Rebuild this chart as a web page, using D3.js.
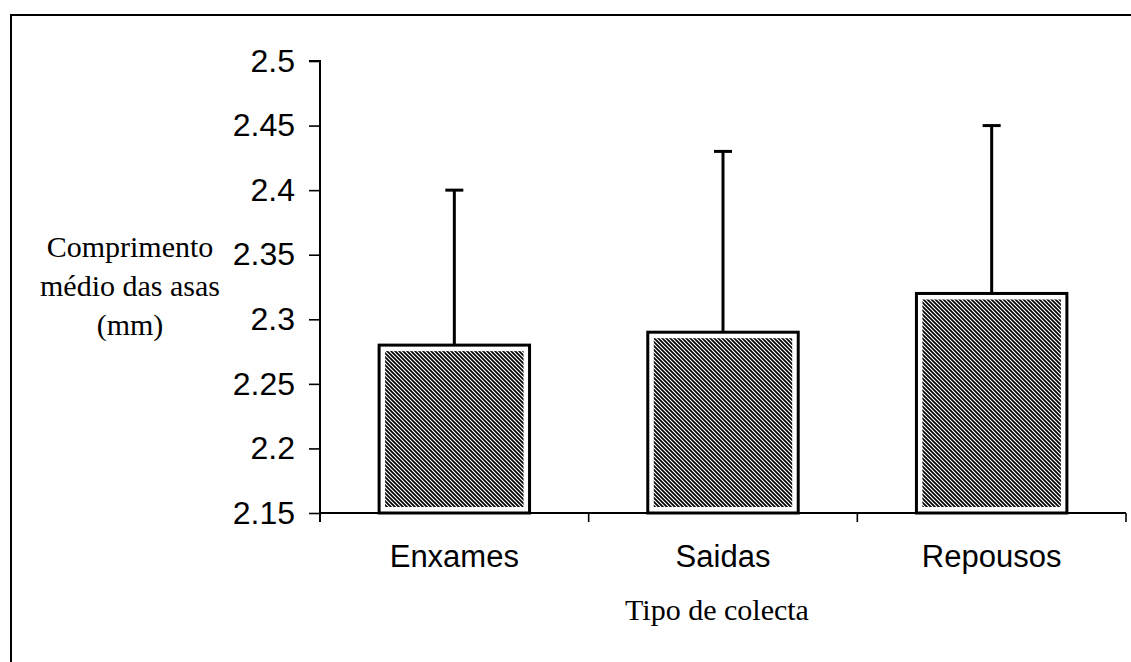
<!DOCTYPE html>
<html>
<head>
<meta charset="utf-8">
<script src="https://cdn.jsdelivr.net/npm/d3@7"></script>
<style>
  html, body { margin: 0; padding: 0; background: #fff; overflow: hidden; }
  .tick text { font-family: "Liberation Sans", Arial, sans-serif; }
  .serif { font-family: "Liberation Serif", "Times New Roman", serif; }
</style>
</head>
<body>
<script>
const categories = ['Enxames', 'Saidas', 'Repousos']
const means = [2.28, 2.29, 2.32]
const errors = [0.12, 0.14, 0.13]
const yTicks = [2.15, 2.2, 2.25, 2.3, 2.35, 2.4, 2.45, 2.5]
const yTitle = ['Comprimento', 'médio das asas', '(mm)']
const xTitle = 'Tipo de colecta'

const fullWidth = 1131
const fullHeight = 662
const margin = { top: 61, right: 5, bottom: 150, left: 320 }

const svg = d3.select('body')
  .append('svg')
  .attr('width', fullWidth)
  .attr('height', fullHeight)

// hatch pattern for bars ("\" lines)
const defs = svg.append('defs')
const pat = defs.append('pattern')
  .attr('id', 'hatch')
  .attr('patternUnits', 'userSpaceOnUse')
  .attr('width', 4)
  .attr('height', 4)
pat.append('path')
  .attr('d', 'M0,0L4,4M-1,3L1,5M3,-1L5,1')
  .attr('stroke', '#000')
  .attr('stroke-width', 1.7)

// outer frame (runs off the page on right/bottom)
svg.append('rect')
  .attr('x', 11)
  .attr('y', 15)
  .attr('width', 1200)
  .attr('height', 700)
  .attr('fill', 'none')
  .attr('stroke', '#000')
  .attr('stroke-width', 2)

const x = d3.scaleBand()
  .domain(categories)
  .range([margin.left, fullWidth - margin.right])
  .paddingInner(0.44)
  .paddingOuter(0.22)

const y = d3.scaleLinear()
  .domain([2.15, 2.5])
  .range([fullHeight - margin.bottom + 1, margin.top])

// ---------------Y axis---------------
const yAxis = d3.axisLeft(y)
  .tickValues(yTicks)
  .tickFormat(d => String(+d.toFixed(2)))
  .tickSize(11)
  .tickPadding(14)

const gy = svg.append('g')
  .attr('transform', `translate(${margin.left},0)`)
  .call(yAxis)
gy.select('.domain').attr('stroke-width', 2)
  .attr('d', `M-11,${y(2.5)}H0V${y(2.15) + 9}`)
gy.selectAll('.tick line').attr('stroke-width', 1.6)
gy.selectAll('.tick text')
  .attr('font-size', 32)
  .attr('fill', '#000')

// ---------------X axis---------------
const step = x.step()
const bounds = categories.map(c => x(c) - step * x.paddingInner() / 2)
bounds.push(fullWidth - margin.right)

const gx = svg.append('g')
gx.append('line')
  .attr('x1', margin.left)
  .attr('x2', fullWidth - margin.right)
  .attr('y1', y(2.15))
  .attr('y2', y(2.15))
  .attr('stroke', '#000')
  .attr('stroke-width', 2)
gx.selectAll('.xtick')
  .data(bounds)
  .enter().append('line')
  .attr('x1', d => d)
  .attr('x2', d => d)
  .attr('y1', y(2.15))
  .attr('y2', y(2.15) + 9)
  .attr('stroke', '#000')
  .attr('stroke-width', 1.6)

gx.selectAll('.xlabel')
  .data(categories)
  .enter().append('text')
  .attr('x', d => x(d) + x.bandwidth() / 2)
  .attr('y', 567)
  .attr('text-anchor', 'middle')
  .attr('font-family', '"Liberation Sans", Arial, sans-serif')
  .attr('font-size', 31)
  .text(d => d)

// ---------------Bars---------------
const bars = svg.selectAll('.bar')
  .data(categories)
  .enter().append('g')
  .attr('class', 'bar')

// error bars drawn first (lower half hidden behind bar)
bars.append('line')
  .attr('x1', d => x(d) + x.bandwidth() / 2)
  .attr('x2', d => x(d) + x.bandwidth() / 2)
  .attr('y1', (d, i) => y(means[i]))
  .attr('y2', (d, i) => y(means[i] + errors[i]))
  .attr('stroke', '#000')
  .attr('stroke-width', 3)
bars.append('line')
  .attr('x1', d => x(d) + x.bandwidth() / 2 - 9)
  .attr('x2', d => x(d) + x.bandwidth() / 2 + 9)
  .attr('y1', (d, i) => y(means[i] + errors[i]))
  .attr('y2', (d, i) => y(means[i] + errors[i]))
  .attr('stroke', '#000')
  .attr('stroke-width', 3)

bars.append('rect')
  .attr('x', d => x(d))
  .attr('y', (d, i) => y(means[i]))
  .attr('width', x.bandwidth())
  .attr('height', (d, i) => y(2.15) - y(means[i]))
  .attr('fill', '#fff')
  .attr('stroke', '#000')
  .attr('stroke-width', 3)

bars.append('rect')
  .attr('x', d => x(d) + 6)
  .attr('y', (d, i) => y(means[i]) + 6)
  .attr('width', x.bandwidth() - 12)
  .attr('height', (d, i) => y(2.15) - y(means[i]) - 12)
  .attr('fill', 'url(#hatch)')

// ---------------Titles---------------
svg.append('text')
  .attr('class', 'serif')
  .attr('text-anchor', 'middle')
  .attr('font-size', 30)
  .selectAll('tspan')
  .data(yTitle)
  .enter().append('tspan')
  .attr('x', 130)
  .attr('y', (d, i) => 257 + i * 39)
  .text(d => d)

svg.append('text')
  .attr('class', 'serif')
  .attr('x', 717)
  .attr('y', 620)
  .attr('text-anchor', 'middle')
  .attr('font-size', 30)
  .text(xTitle)
</script>
</body>
</html>
